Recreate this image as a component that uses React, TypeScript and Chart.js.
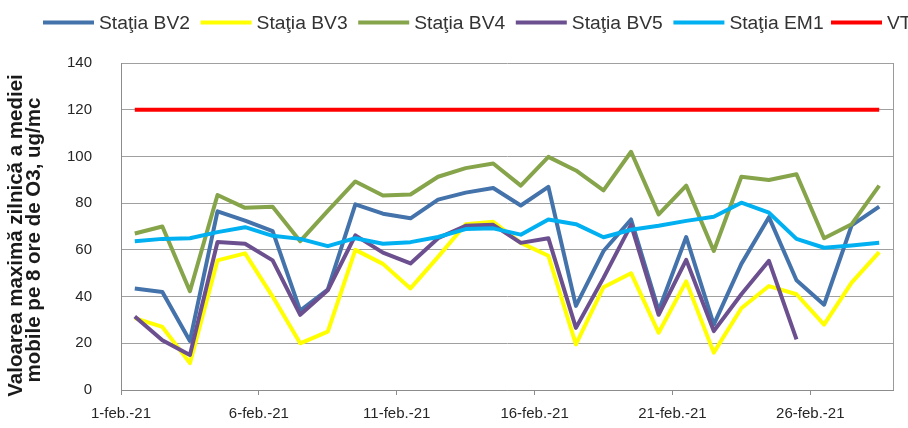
import React, { useEffect, useRef } from 'react';
import { Chart, registerables } from 'chart.js';

Chart.register(...registerables);

const FONT = '"Liberation Sans", Arial, sans-serif';

// X-axis tick labels (every 5th day) and the day index (boundary) where they sit
const tickLabels = ['1-feb.-21', '6-feb.-21', '11-feb.-21', '16-feb.-21', '21-feb.-21', '26-feb.-21'];
const tickDays = [0, 5, 10, 15, 20, 25];
const dayCount = 28;

const seriesNames = ['Staţia BV2', 'Staţia BV3', 'Staţia BV4', 'Staţia BV5', 'Staţia EM1', 'VT'];

const bv2 = [43.5, 42, 21, 76.5, 72.5, 68, 34, 43, 79.5, 75.5, 73.5, 81.5, 84.5, 86.5, 79, 87, 36, 59.5, 73, 34, 65.5, 28, 54, 74, 47, 36.5, 70.5, 78.5];
const bv3 = [30.8, 27, 11.5, 55.5, 58.5, 40, 20, 25, 60, 54, 43.5, 57, 71, 72, 63, 57.5, 19.5, 44, 50, 24.5, 46.5, 16, 35, 44.5, 41, 28, 46, 59];
const bv4 = [67, 70, 42.3, 83.5, 78, 78.5, 63.7, 76.7, 89.3, 83.3, 83.7, 91.3, 95, 97, 87.5, 99.8, 94, 85.5, 102, 75.2, 87.5, 59.5, 91.3, 89.9, 92.4, 65, 71, 87.5];
const bv5 = [31.5, 21.3, 15, 63.4, 62.6, 55.5, 32.2, 42.7, 66.2, 58.8, 54.2, 65, 70.3, 70.7, 63, 65, 26.6, 48, 70.7, 32.2, 55.7, 25.2, 41, 55.3, 21.7, null, null, null];
const em1 = [63.7, 64.7, 65, 67.6, 69.7, 66, 64.7, 61.6, 65, 62.6, 63.3, 65.5, 68.9, 69.2, 66.5, 73, 71, 65.4, 68.6, 70.3, 72.4, 74.2, 80.2, 75.9, 64.7, 60.9, 61.9, 63];
const vt = [120, 120, 120, 120, 120, 120, 120, 120, 120, 120, 120, 120, 120, 120, 120, 120, 120, 120, 120, 120, 120, 120, 120, 120, 120, 120, 120, 120];

const seriesValues = [bv2, bv3, bv4, bv5, em1, vt];
const seriesColors = ['#4472AA', '#FFFF00', '#86A44A', '#6B4F8F', '#00B0F0', '#FF0000'];

const yTitleLines = ['Valoarea maximă zilnică a mediei', 'mobile pe 8 ore de O3, ug/mc'];

const decorPlugin = {
  id: 'decor',
  afterDraw(chart: any) {
    const ctx = chart.ctx as CanvasRenderingContext2D;
    const area = chart.chartArea;
    ctx.save();
    // right border of the plot area
    ctx.strokeStyle = '#9a9a9a';
    ctx.lineWidth = 1;
    ctx.beginPath();
    ctx.moveTo(Math.round(area.right) + 0.5, area.top);
    ctx.lineTo(Math.round(area.right) + 0.5, area.bottom);
    ctx.stroke();

    // legend
    chart.data.datasets.forEach((ds: any, i: number) => {
      const x0 = 43 + i * 157.6;
      ctx.strokeStyle = ds.borderColor;
      ctx.lineWidth = 4;
      ctx.lineCap = 'butt';
      ctx.beginPath();
      ctx.moveTo(x0, 22.5);
      ctx.lineTo(x0 + 51, 22.5);
      ctx.stroke();
      ctx.save();
      ctx.translate(x0 + 56, 29);
      ctx.scale(1.07, 1);
      ctx.font = `18px ${FONT}`;
      ctx.fillStyle = '#333333';
      ctx.textAlign = 'left';
      ctx.textBaseline = 'alphabetic';
      ctx.fillText(ds.label, 0, 0);
      ctx.restore();
    });

    // y-axis title (two lines, rotated)
    const titlePos = [
      { x: 22, y: 235.5 },
      { x: 40, y: 240 },
    ];
    yTitleLines.forEach((t, i) => {
      ctx.save();
      ctx.translate(titlePos[i].x, titlePos[i].y);
      ctx.rotate(-Math.PI / 2);
      ctx.font = `bold 20.5px ${FONT}`;
      ctx.fillStyle = '#1a1a1a';
      ctx.textAlign = 'center';
      ctx.textBaseline = 'alphabetic';
      ctx.fillText(t, 0, 0);
      ctx.restore();
    });
    ctx.restore();
  },
};

export default function App() {
  const canvasRef = useRef<HTMLCanvasElement | null>(null);

  useEffect(() => {
    const canvas = canvasRef.current;
    if (!canvas) return;
    const datasets = seriesNames.map((name, i) => ({
      label: name,
      data: seriesValues[i].map((v, d) => ({ x: d + 0.5, y: v })),
      borderColor: seriesColors[i],
      backgroundColor: seriesColors[i],
      borderWidth: 4,
      pointRadius: 0,
      tension: 0,
      fill: false,
      spanGaps: false,
      borderJoinStyle: 'round' as const,
      borderCapStyle: 'butt' as const,
      order: seriesNames.length - i,
    }));

    const chart = new Chart(canvas, {
      type: 'line',
      data: { datasets },
      plugins: [decorPlugin],
      options: {
        animation: false,
        responsive: false,
        devicePixelRatio: 1,
        layout: { padding: { top: 63, right: 15, left: 0, bottom: 0 } },
        plugins: {
          legend: { display: false },
          tooltip: { enabled: false },
          title: { display: false },
        },
        scales: {
          x: {
            type: 'linear',
            min: 0,
            max: dayCount,
            afterBuildTicks: (scale: any) => {
              scale.ticks = tickDays.map((v) => ({ value: v }));
            },
            afterFit: (scale: any) => {
              scale.height = 31;
            },
            ticks: {
              autoSkip: false,
              maxRotation: 0,
              minRotation: 0,
              padding: 10,
              color: '#262626',
              font: { family: FONT, size: 15 },
              callback: (value: any) => {
                const idx = tickDays.indexOf(Number(value));
                return idx >= 0 ? tickLabels[idx] : '';
              },
            },
            grid: {
              drawOnChartArea: false,
              drawTicks: true,
              tickLength: 5,
              color: '#8c8c8c',
            },
            border: { display: true, color: '#8c8c8c', width: 1 },
          },
          y: {
            min: 0,
            max: 140,
            afterFit: (scale: any) => {
              scale.width = 121;
            },
            ticks: {
              stepSize: 20,
              padding: 29,
              color: '#262626',
              font: { family: FONT, size: 15 },
            },
            grid: {
              drawTicks: false,
              color: '#a0a0a0',
              lineWidth: 1,
            },
            border: { display: true, color: '#8c8c8c', width: 1 },
          },
        },
      },
    });
    return () => chart.destroy();
  }, []);

  return (
    <div style={{ position: 'fixed', left: 0, top: 0, width: 908, height: 428, background: '#ffffff' }}>
      <canvas ref={canvasRef} width={908} height={428} style={{ display: 'block', width: 908, height: 428 }} />
    </div>
  );
}
